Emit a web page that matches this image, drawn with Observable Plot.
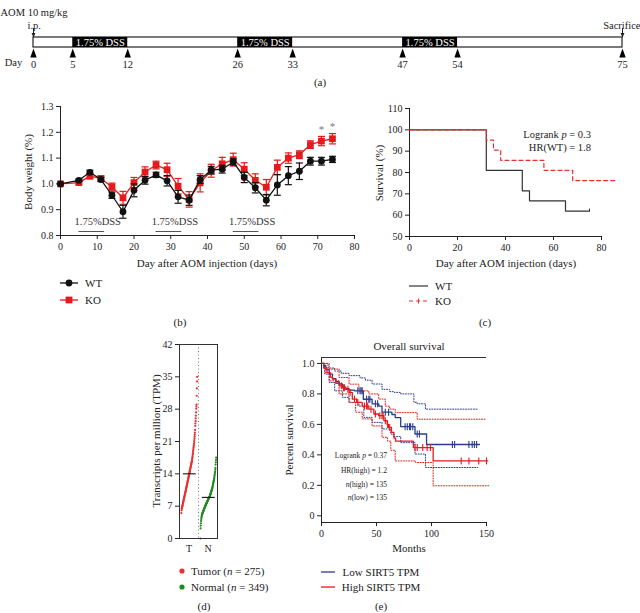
<!DOCTYPE html>
<html><head><meta charset="utf-8">
<script src="https://cdn.jsdelivr.net/npm/d3@7"></script>
<script src="https://cdn.jsdelivr.net/npm/@observablehq/plot@0.6"></script>
<style>
html,body{margin:0;padding:0;background:#fff;}
#fig{position:relative;width:640px;height:613px;overflow:hidden;background:#fff;font-family:"Liberation Serif","DejaVu Serif","Times New Roman",serif;color:#222;}
#fig svg{overflow:visible;}
</style>
</head><body><div id="fig"></div>
<script>
// ---------- Panel (a): treatment timeline ----------
const timelineDays = [0, 5, 12, 26, 33, 47, 54, 75];
const dssStart = [5, 26, 47];
const dssEnd = [12, 33, 54];
const dssLabelA = "1.75% DSS";
const dssLabelB = "1.75%DSS";

// ---------- Panel (b): body weight ----------
const bwDays = [0, 5, 8, 11, 14, 17, 20, 23, 26, 29, 32, 35, 38, 41, 44, 47, 50, 53, 56, 59, 62, 65, 68, 71, 74];
const wtMean = [1.000, 1.014, 1.045, 1.017, 0.956, 0.892, 0.975, 1.014, 1.035, 1.012, 0.950, 0.937, 1.017, 1.053, 1.057, 1.085, 1.025, 0.985, 0.937, 0.996, 1.032, 1.049, 1.088, 1.088, 1.095];
const wtSem  = [0.000, 0.005, 0.008, 0.008, 0.012, 0.025, 0.025, 0.015, 0.010, 0.020, 0.025, 0.020, 0.015, 0.015, 0.015, 0.012, 0.020, 0.020, 0.022, 0.040, 0.035, 0.032, 0.015, 0.015, 0.012];
const koMean = [1.000, 1.005, 1.030, 1.021, 0.988, 0.946, 1.005, 1.046, 1.073, 1.055, 0.991, 0.940, 1.004, 1.051, 1.078, 1.094, 1.057, 1.014, 0.987, 1.064, 1.100, 1.113, 1.152, 1.166, 1.175];
const koSem  = [0.000, 0.005, 0.010, 0.010, 0.015, 0.025, 0.020, 0.020, 0.015, 0.025, 0.030, 0.030, 0.035, 0.025, 0.025, 0.025, 0.025, 0.025, 0.030, 0.028, 0.020, 0.015, 0.015, 0.018, 0.020];
const sigDays = [71, 74];
const bwXTicks = [0, 10, 20, 30, 40, 50, 60, 70, 80];
const bwYTicks = [0.8, 0.9, 1.0, 1.1, 1.2, 1.3];

// ---------- Panel (c): mouse survival ----------
const wtSurvDays = [0, 32, 47, 50, 65, 75];
const wtSurv     = [100, 81.0, 71.4, 66.7, 61.9, 61.9];
const koSurvDays = [0, 32, 35, 38, 56, 68, 86];
const koSurv     = [100, 95.2, 90.5, 85.7, 81.0, 76.2, 76.2];
const wtCensorDays = [75];
const survXTicks = [0, 20, 40, 60, 80];
const survYTicks = [50, 60, 70, 80, 90, 100, 110];

// ---------- Panel (d): SIRT5 TPM (sorted values) ----------
const groupNames = ["T", "N"];
const tumorTPM = [5.5, 6.1, 6.4, 6.6, 6.8, 6.9, 7.0,
  7.2, 7.3, 7.5, 7.7, 7.8, 8.0, 8.1, 8.3, 8.5, 8.6, 8.8, 8.9, 9.1, 9.2, 9.4, 9.6, 9.7, 9.9, 10.0,
  10.2, 10.3, 10.5, 10.7, 10.8, 11.0, 11.1, 11.3, 11.5, 11.6, 11.8, 12.0, 12.1, 12.3, 12.5, 12.6, 12.8, 13.0, 13.1, 13.3, 13.5, 13.6, 13.8, 14.0,
  14.2, 14.3, 14.5, 14.6, 14.8, 15.0, 15.1, 15.3, 15.5, 15.6, 15.8, 16.0, 16.1, 16.3, 16.5, 16.6, 16.8, 17.0,
  17.3, 17.5, 17.8, 18.1, 18.4, 18.7, 19.0, 19.3, 19.6, 19.9, 20.2, 20.5,
  20.9, 21.3, 21.7, 22.1, 22.5,
  22.9, 23.5, 24.4, 24.9, 25.4, 26.0, 26.6, 27.3, 28.1, 28.6, 29.0, 30.9, 32.5, 34.0, 35.0];
const normalTPM = [0.0, 2.2, 2.8, 3.3, 3.8, 4.2, 4.5, 4.8, 5.0,
  5.2, 5.3, 5.4, 5.5, 5.6, 5.7, 5.8, 5.9, 6.0, 6.1, 6.2, 6.3, 6.4, 6.5, 6.6, 6.7, 6.8, 6.9, 7.0,
  7.1, 7.2, 7.3, 7.4, 7.5, 7.5, 7.6, 7.7, 7.8, 7.9, 8.0, 8.0, 8.1, 8.2, 8.3, 8.4, 8.5, 8.6, 8.6, 8.7, 8.8, 8.9, 9.0, 9.0,
  9.1, 9.2, 9.3, 9.5, 9.6, 9.7, 9.8, 10.0, 10.1, 10.2, 10.4, 10.5, 10.6, 10.8, 10.9, 11.0,
  11.2, 11.4, 11.6, 11.8, 12.0, 12.2, 12.4, 12.6, 12.8, 13.0,
  13.3, 13.6, 13.9, 14.2, 14.5,
  14.9, 15.3, 16.0, 16.5, 17.0, 17.5];
const groupMedians = [14.0, 8.9];
const tpmTicks = [0, 7, 14, 21, 28, 35, 42];

// ---------- Panel (e): overall survival (KM) ----------
const lowT = [0, 2, 4, 7, 10, 13, 16, 19, 22, 25, 30, 38, 46, 52, 55, 64, 67, 72, 85, 95.5, 143.6];
const lowS = [1.0, 0.985, 0.96, 0.93, 0.90, 0.88, 0.865, 0.845, 0.835, 0.825, 0.82, 0.765, 0.735, 0.72, 0.68, 0.665, 0.645, 0.585, 0.537, 0.468, 0.468];
const highT = [0, 2, 5, 8, 10, 13, 16, 19, 22, 25, 28, 32, 37, 43, 47.6, 52, 56.7, 59.7, 61, 63.6, 65.8, 67.3, 83.5, 101.5, 151];
const highS = [1.0, 0.97, 0.94, 0.91, 0.897, 0.87, 0.853, 0.84, 0.83, 0.81, 0.766, 0.744, 0.72, 0.70, 0.668, 0.657, 0.624, 0.60, 0.58, 0.547, 0.51, 0.49, 0.448, 0.36, 0.36];
const lowUpT = [0, 6, 12, 18, 25, 35, 40, 46, 55, 62, 66, 72, 84, 87, 94.5, 142];
const lowUpS = [1.0, 0.97, 0.95, 0.935, 0.92, 0.905, 0.89, 0.865, 0.83, 0.815, 0.81, 0.80, 0.745, 0.735, 0.70, 0.70];
const lowLoT = [0, 3, 7, 12, 19, 25, 34, 38.5, 46, 55, 63, 66, 72, 85, 94.5, 142];
const lowLoS = [1.0, 0.93, 0.875, 0.82, 0.777, 0.744, 0.72, 0.646, 0.613, 0.57, 0.536, 0.52, 0.48, 0.405, 0.317, 0.317];
const highUpT = [0, 7, 16, 25, 34, 43, 52, 58, 62, 67, 84, 87, 150];
const highUpS = [1.0, 0.963, 0.908, 0.864, 0.82, 0.80, 0.766, 0.72, 0.70, 0.677, 0.677, 0.634, 0.634];
const highLoT = [0, 3, 7, 16, 25, 31, 37, 46, 55, 60, 63, 67, 85.5, 101.5, 152];
const highLoS = [1.0, 0.94, 0.886, 0.80, 0.744, 0.68, 0.636, 0.59, 0.515, 0.49, 0.43, 0.36, 0.35, 0.197, 0.197];
const lowCensor = [33, 35, 36, 37, 41, 43, 44, 49, 51, 58, 61, 76, 78, 80, 81, 83, 87, 89, 119, 121, 134, 137, 139, 141];
const highCensor = [18, 20, 21, 24, 26, 30, 33, 39, 41, 42, 45, 49, 53, 55, 56, 58, 60, 62, 85, 87, 92, 96, 99, 127, 134, 143, 150];
const osXTicks = [0, 50, 100, 150];
const osYTicks = [0, 0.2, 0.4, 0.6, 0.8, 1.0];
const osYDomain = [-0.044, 1.039];

// ---------- helpers ----------
const SERIF = '"Liberation Serif","DejaVu Serif","Times New Roman",serif';
const fig = document.getElementById("fig");
const RED = "#e41a1c", BLUE = "#2a3d8f", GREEN = "#1d8a22", TRED = "#ea3030";
function put(node, left, top) {
  const w = document.createElement("div");
  w.style.cssText = `position:absolute;left:${left}px;top:${top}px;`;
  w.appendChild(node); fig.appendChild(w); return w;
}
function txt(html, x, y, o = {}) {
  const {size = 11, anchor = "middle", rotate = false, color = "#222"} = o;
  const d = document.createElement("div");
  d.innerHTML = html;
  const tx = anchor === "start" ? "0" : anchor === "end" ? "-100%" : "-50%";
  d.style.cssText = `position:absolute;left:${x}px;top:${y}px;font-size:${size}px;line-height:1;white-space:nowrap;color:${color};transform:translate(${tx},-50%)${rotate ? " rotate(-90deg)" : ""};`;
  fig.appendChild(d); return d;
}
function swatch(svgInner, x, y, w, h) {
  const d = document.createElement("div");
  d.style.cssText = `position:absolute;left:${x}px;top:${y - h / 2}px;width:${w}px;height:${h}px;`;
  d.innerHTML = `<svg width="${w}" height="${h}" style="display:block">${svgInner}</svg>`;
  fig.appendChild(d);
}
const baseStyle = {fontFamily: SERIF, fontSize: "10px", background: "transparent", color: "#222", overflow: "visible"};
const capSym = {draw(ctx) { ctx.moveTo(-3.5, 0); ctx.lineTo(3.5, 0); }};
const vtick = {draw(ctx) { ctx.moveTo(0, -3.5); ctx.lineTo(0, 3.5); }};
const vtickUp = {draw(ctx) { ctx.moveTo(0, 0); ctx.lineTo(0, -2.5); }};
const upTri = {draw(ctx) { ctx.moveTo(0, -4.5); ctx.lineTo(3.2, 4.5); ctx.lineTo(-3.2, 4.5); ctx.closePath(); }};
const downHead = {draw(ctx) { ctx.moveTo(0, 2); ctx.lineTo(2, -2.5); ctx.lineTo(-2, -2.5); ctx.closePath(); }};
const stepAt = (ts, ss, t) => { let v = ss[0]; ts.forEach((ti, i) => { if (ti <= t) v = ss[i]; }); return v; };
const pts = (ts, ss) => ts.map((t, i) => ({t, s: ss[i]}));

// ---------- (a) ----------
const dss = dssStart.map((s, i) => ({start: s, end: dssEnd[i]}));
const tlExtent = [d3.min(timelineDays), d3.max(timelineDays)];
put(Plot.plot({
  width: 640, height: 90, marginLeft: 33, marginRight: 18, marginTop: 37, marginBottom: 43,
  style: {...baseStyle, fontSize: "10.5px"},
  x: {domain: tlExtent, ticks: timelineDays, tickSize: 0, tickPadding: 13, tickFormat: d => d, label: null},
  marks: [
    Plot.rect([tlExtent], {x1: d => d[0], x2: d => d[1], fill: "white", stroke: "#222", strokeWidth: 1.2}),
    Plot.rect(dss, {x1: "start", x2: "end", fill: "#000"}),
    Plot.text(dss, {x: d => (d.start + d.end) / 2, text: () => dssLabelA, fill: "white", fontSize: 10.5}),
    Plot.dot(timelineDays, {x: d => d, symbol: upTri, fill: "#000", stroke: "none", frameAnchor: "bottom", dy: 5.5}),
    Plot.ruleX(tlExtent, {x: d => d, stroke: "#222", strokeWidth: 1, insetTop: -9, insetBottom: 10}),
    Plot.dot(tlExtent, {x: d => d, symbol: downHead, fill: "#222", stroke: "none", frameAnchor: "top", dy: -2}),
    Plot.text(["AOM 10 mg/kg"], {x: tlExtent[0], text: d => d, textAnchor: "start", dx: -33, frameAnchor: "top", dy: -29, fontSize: 10.5}),
    Plot.text(["i.p."], {x: tlExtent[0], text: d => d, textAnchor: "start", dx: -6, frameAnchor: "top", dy: -16, fontSize: 10.5}),
    Plot.text(["Sacrifice"], {x: tlExtent[1], text: d => d, textAnchor: "end", dx: 18, frameAnchor: "top", dy: -16, fontSize: 10.5}),
    Plot.text(["Day"], {x: tlExtent[0], text: d => d, dx: -20, frameAnchor: "bottom", dy: 18, fontSize: 10.5})
  ]
}), 0, 0);
txt("(a)", 320, 82);

// ---------- (b) ----------
const wtData = bwDays.map((d, i) => ({day: d, mean: wtMean[i], sem: wtSem[i]}));
const koData = bwDays.map((d, i) => ({day: d, mean: koMean[i], sem: koSem[i]}));
const sigData = sigDays.map(d => koData.find(k => k.day === d));
put(Plot.plot({
  width: 340, height: 160, marginLeft: 40, marginRight: 6, marginTop: 11, marginBottom: 20,
  style: baseStyle,
  x: {domain: [bwXTicks[0], bwXTicks[bwXTicks.length - 1]], ticks: bwXTicks, line: true, tickSize: 4, tickPadding: 3, label: null},
  y: {domain: [bwYTicks[0], bwYTicks[bwYTicks.length - 1]], ticks: bwYTicks, tickFormat: ".1f", line: true, tickSize: 4, tickPadding: 3, label: null},
  marks: [
    Plot.rect(dss, {x1: "start", x2: "end", fill: "#555", insetTop: 125, insetBottom: 3}),
    Plot.text(dss, {x: d => (d.start + d.end) / 2, text: () => dssLabelB, frameAnchor: "bottom", dy: -11, dx: 6, fontSize: 10.5, fill: "#333"}),
    Plot.ruleX(koData, {x: "day", y1: d => d.mean - d.sem, y2: d => d.mean + d.sem, stroke: RED, strokeWidth: 1.2}),
    Plot.dot(koData, {x: "day", y: d => d.mean + d.sem, symbol: capSym, stroke: RED, fill: "none", strokeWidth: 1.2}),
    Plot.dot(koData, {x: "day", y: d => d.mean - d.sem, symbol: capSym, stroke: RED, fill: "none", strokeWidth: 1.2}),
    Plot.line(koData, {x: "day", y: "mean", stroke: RED, strokeWidth: 1.3}),
    Plot.dot(koData, {x: "day", y: "mean", symbol: "square", r: 3.8, fill: RED, stroke: "none"}),
    Plot.ruleX(wtData, {x: "day", y1: d => d.mean - d.sem, y2: d => d.mean + d.sem, stroke: "#111", strokeWidth: 1.2}),
    Plot.dot(wtData, {x: "day", y: d => d.mean + d.sem, symbol: capSym, stroke: "#111", fill: "none", strokeWidth: 1.2}),
    Plot.dot(wtData, {x: "day", y: d => d.mean - d.sem, symbol: capSym, stroke: "#111", fill: "none", strokeWidth: 1.2}),
    Plot.line(wtData, {x: "day", y: "mean", stroke: "#111", strokeWidth: 1.3}),
    Plot.dot(wtData, {x: "day", y: "mean", r: 3.4, fill: "#111", stroke: "none"}),
    Plot.text(sigData, {x: "day", y: d => d.mean + d.sem, text: () => "*", dy: -7, fontSize: 11, fill: "#777"})
  ]
}), 20, 95);
txt("Body weight (%)", 28, 172, {rotate: true});
txt("Day after AOM injection (days)", 207, 263);
swatch(`<line x1="0" y1="6" x2="18" y2="6" stroke="#111" stroke-width="1.3"/><circle cx="9" cy="6" r="3.4" fill="#111"/>`, 60, 283, 18, 12);
swatch(`<line x1="0" y1="6" x2="18" y2="6" stroke="${RED}" stroke-width="1.3"/><rect x="5.6" y="2.6" width="6.8" height="6.8" fill="${RED}"/>`, 60, 300, 18, 12);
txt("WT", 85, 283, {anchor: "start"});
txt("KO", 85, 300, {anchor: "start"});
txt("(b)", 180, 322);

// ---------- (c) ----------
put(Plot.plot({
  width: 260, height: 160, marginLeft: 39, marginRight: 29, marginTop: 13, marginBottom: 19,
  style: baseStyle,
  x: {domain: [survXTicks[0], survXTicks[survXTicks.length - 1]], ticks: survXTicks, line: true, tickSize: 4, tickPadding: 3, label: null},
  y: {domain: [survYTicks[0], survYTicks[survYTicks.length - 1]], ticks: survYTicks, line: true, tickSize: 4, tickPadding: 3, label: null},
  marks: [
    Plot.line(pts(wtSurvDays, wtSurv), {x: "t", y: "s", curve: "step-after", stroke: "#333", strokeWidth: 1.2}),
    Plot.dot(wtCensorDays, {x: d => d, y: d => stepAt(wtSurvDays, wtSurv, d), symbol: vtickUp, stroke: "#333", fill: "none", strokeWidth: 1}),
    Plot.line(pts(koSurvDays, koSurv), {x: "t", y: "s", curve: "step-after", stroke: TRED, strokeWidth: 1.2, strokeDasharray: "4,3"})
  ]
}), 370, 95);
txt("Logrank <i>p</i> = 0.3", 591, 135, {anchor: "end", size: 10.5});
txt("HR(WT) = 1.8", 591, 148, {anchor: "end", size: 10.5});
txt("Survival (%)", 379, 173, {rotate: true});
txt("Day after AOM injection (days)", 506, 263);
swatch(`<line x1="0" y1="6" x2="19" y2="6" stroke="#333" stroke-width="1.2"/>`, 409, 286, 19, 12);
swatch(`<line x1="0" y1="6" x2="19" y2="6" stroke="${TRED}" stroke-width="1.2" stroke-dasharray="4,3"/><line x1="9.5" y1="3.5" x2="9.5" y2="8.5" stroke="${TRED}" stroke-width="1"/>`, 409, 301, 19, 12);
txt("WT", 435, 286, {anchor: "start"});
txt("KO", 435, 301, {anchor: "start"});
txt("(c)", 485, 322);

// ---------- (d) ----------
const tpmData = [];
[tumorTPM, normalTPM].forEach((arr, g) => arr.forEach((v, i) => tpmData.push({g, v, f: i / (arr.length - 1)})));
const medData = groupMedians.map((m, g) => ({g, m}));
put(Plot.plot({
  width: 90, height: 230, marginLeft: 39, marginRight: 13, marginTop: 14, marginBottom: 22,
  style: baseStyle,
  x: {domain: [0, groupNames.length], ticks: groupNames.map((_, g) => g + 0.5), tickFormat: d => groupNames[Math.floor(d)], tickSize: 0, tickPadding: 6, label: null},
  y: {domain: [tpmTicks[0], tpmTicks[tpmTicks.length - 1]], ticks: tpmTicks, tickSize: 4, tickPadding: 3, label: null},
  marks: [
    Plot.ruleX(groupNames.slice(1).map((_, g) => g + 1), {x: d => d, stroke: "#666", strokeDasharray: "1,2.5", strokeWidth: 0.9}),
    Plot.dot(tpmData, {x: d => d.g + 0.1 + 0.83 * d.f, y: "v", r: 1.1, fill: d => d.g === 0 ? TRED : GREEN, stroke: "none"}),
    Plot.ruleY(medData, {y: "m", x1: d => d.g + 0.2, x2: d => d.g + 0.88, stroke: "#111", strokeWidth: 1.1}),
    Plot.frame({stroke: "#333"})
  ]
}), 140, 330);
txt("Transcripts per million (TPM)", 156, 441, {rotate: true});
swatch(`<circle cx="3" cy="3" r="2.6" fill="${TRED}"/>`, 179, 571, 6, 6);
swatch(`<circle cx="3" cy="3" r="2.6" fill="${GREEN}"/>`, 179, 587, 6, 6);
txt("Tumor (<i>n</i> = 275)", 191, 571, {anchor: "start"});
txt("Normal (<i>n</i> = 349)", 191, 587, {anchor: "start"});
txt("(d)", 204, 606);

// ---------- (e) ----------
const censorPts = (cs, ts, ss) => cs.map(t => ({t, s: stepAt(ts, ss, t)}));
put(Plot.plot({
  width: 200, height: 195, marginLeft: 26, marginRight: 9, marginTop: 12, marginBottom: 18,
  style: baseStyle,
  x: {domain: [osXTicks[0], osXTicks[osXTicks.length - 1]], ticks: osXTicks, line: true, tickSize: 4, tickPadding: 3, label: null},
  y: {domain: osYDomain, ticks: osYTicks, tickFormat: d => d === 0 ? "0" : d.toFixed(1), line: true, tickSize: 4, tickPadding: 3, label: null},
  marks: [
    Plot.ruleY([osYDomain[1]], {stroke: "#333", strokeWidth: 1}),
    Plot.line(pts(lowUpT, lowUpS), {x: "t", y: "s", curve: "step-after", stroke: BLUE, strokeDasharray: "1,1.6", strokeWidth: 1}),
    Plot.line(pts(lowLoT, lowLoS), {x: "t", y: "s", curve: "step-after", stroke: BLUE, strokeDasharray: "1,1.6", strokeWidth: 1}),
    Plot.line(pts(highUpT, highUpS), {x: "t", y: "s", curve: "step-after", stroke: RED, strokeDasharray: "1,1.6", strokeWidth: 1}),
    Plot.line(pts(highLoT, highLoS), {x: "t", y: "s", curve: "step-after", stroke: RED, strokeDasharray: "1,1.6", strokeWidth: 1}),
    Plot.line(pts(lowT, lowS), {x: "t", y: "s", curve: "step-after", stroke: BLUE, strokeWidth: 1.3}),
    Plot.dot(censorPts(lowCensor, lowT, lowS), {x: "t", y: "s", symbol: vtick, stroke: BLUE, fill: "none", strokeWidth: 1.1}),
    Plot.line(pts(highT, highS), {x: "t", y: "s", curve: "step-after", stroke: RED, strokeWidth: 1.3}),
    Plot.dot(censorPts(highCensor, highT, highS), {x: "t", y: "s", symbol: vtick, stroke: RED, fill: "none", strokeWidth: 1.1})
  ]
}), 295, 345);
txt("Overall survival", 409, 346, {size: 11});
txt("Percent survival", 289, 440, {rotate: true});
txt("Months", 409, 548);
txt("Logrank <i>p</i> = 0.37", 387, 456, {anchor: "end", size: 7.5});
txt("HR(high) = 1.2", 387, 470.5, {anchor: "end", size: 7.5});
txt("<i>n</i>(high) = 135", 387, 484.5, {anchor: "end", size: 7.5});
txt("<i>n</i>(low) = 135", 387, 498, {anchor: "end", size: 7.5});
swatch(`<line x1="0" y1="3" x2="14" y2="3" stroke="${BLUE}" stroke-width="1.3"/>`, 321, 572, 14, 6);
swatch(`<line x1="0" y1="3" x2="14" y2="3" stroke="${RED}" stroke-width="1.3"/>`, 321, 587, 14, 6);
txt("Low SIRT5 TPM", 381, 572);
txt("High SIRT5 TPM", 381, 587);
txt("(e)", 381, 606);
</script>
</body></html>
